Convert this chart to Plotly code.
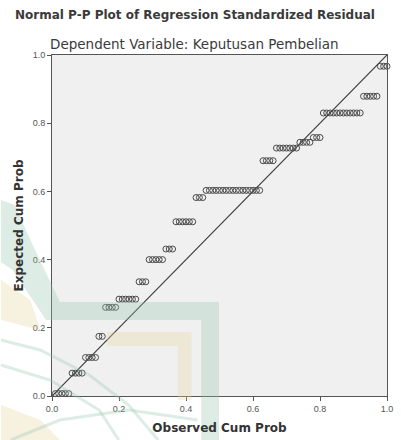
import plotly.graph_objects as go

# Observed vs expected cumulative probabilities of the standardized residuals,
# grouped by tied expected value
groups_observed = [
    [0.01, 0.02, 0.03, 0.04, 0.05],
    [0.06, 0.07, 0.08, 0.09],
    [0.10, 0.11, 0.12, 0.13],
    [0.14, 0.15],
    [0.16, 0.17, 0.18, 0.19],
    [0.20, 0.21, 0.22, 0.23, 0.24, 0.25],
    [0.26, 0.27, 0.28],
    [0.29, 0.30, 0.31, 0.32, 0.33],
    [0.34, 0.35, 0.36],
    [0.37, 0.38, 0.39, 0.40, 0.41, 0.42],
    [0.43, 0.44, 0.45],
    [0.46, 0.47, 0.48, 0.49, 0.50, 0.51, 0.52, 0.53, 0.54, 0.55, 0.56,
     0.57, 0.58, 0.59, 0.60, 0.61, 0.62],
    [0.63, 0.64, 0.65, 0.66],
    [0.67, 0.68, 0.69, 0.70, 0.71, 0.72, 0.73],
    [0.74, 0.75, 0.76, 0.77],
    [0.78, 0.79, 0.80],
    [0.81, 0.82, 0.83, 0.84, 0.85, 0.86, 0.87, 0.88, 0.89, 0.90, 0.91, 0.92],
    [0.93, 0.94, 0.95, 0.96, 0.97],
    [0.98, 0.99, 1.00],
]
groups_expected = [0.007, 0.067, 0.113, 0.175, 0.26, 0.284, 0.335, 0.40, 0.431,
                   0.511, 0.582, 0.603, 0.69, 0.727, 0.744, 0.758, 0.83, 0.879, 0.967]

observed = [x for g in groups_observed for x in g]
expected = [e for g, e in zip(groups_observed, groups_expected) for _ in g]

tick_vals = [0.0, 0.2, 0.4, 0.6, 0.8, 1.0]
tick_text = ["0.0", "0.2", "0.4", "0.6", "0.8", "1.0"]
ref_line = [0.0, 1.0]

W, H = 401, 440
L, R, T, B = 52, 8, 55, 44
PW, PH = W - L - R, H - T - B

HEAD_FONT = "DejaVu Sans, Verdana, sans-serif"
TICK_FONT = "Liberation Sans, Arial, sans-serif"


def px_path(points, close=True):
    """SVG path in paper coordinates from pixel points (origin top-left)."""
    parts = []
    for i, (px, py) in enumerate(points):
        xp = (px - L) / PW
        yp = (H - B - py) / PH
        parts.append(("M" if i == 0 else "L") + f"{xp:.4f},{yp:.4f}")
    return " ".join(parts) + (" Z" if close else "")


fig = go.Figure()

fig.add_trace(go.Scatter(
    x=ref_line, y=ref_line, mode="lines",
    line=dict(color="#3c3c3c", width=1.2),
    hoverinfo="skip", showlegend=False,
))

fig.add_trace(go.Scatter(
    x=observed, y=expected, mode="markers",
    marker=dict(symbol="circle-open", size=6, color="#4a4a4a",
                line=dict(width=1, color="#4a4a4a")),
    cliponaxis=False, showlegend=False,
))

# faint background emblem
green = "rgba(150,195,175,0.32)"
tan = "rgba(230,210,160,0.32)"
shapes = [
    dict(type="path", xref="paper", yref="paper", layer="above", line_width=0,
         fillcolor=green,
         path=px_path([(0, 200), (14, 205), (30, 240), (60, 302), (222, 302),
                       (222, 440), (204, 440), (204, 320), (46, 320),
                       (12, 270), (0, 262)])),
    dict(type="path", xref="paper", yref="paper", layer="above", line_width=0,
         fillcolor=tan,
         path=px_path([(108, 332), (194, 332), (194, 400), (180, 400),
                       (180, 346), (108, 346)])),
    dict(type="path", xref="paper", yref="paper", layer="above", line_width=0,
         fillcolor=tan,
         path=px_path([(0, 280), (30, 300), (40, 330), (0, 320)])),
    dict(type="path", xref="paper", yref="paper", layer="above", line_width=0,
         fillcolor=tan,
         path=px_path([(0, 405), (40, 420), (60, 440), (0, 440)])),
    dict(type="path", xref="paper", yref="paper", layer="above",
         line=dict(color=green, width=3),
         path=px_path([(0, 340), (40, 350), (90, 375), (130, 405), (160, 440)],
                      close=False)),
    dict(type="path", xref="paper", yref="paper", layer="above",
         line=dict(color=green, width=3),
         path=px_path([(0, 365), (50, 380), (100, 410), (120, 440)],
                      close=False)),
    dict(type="path", xref="paper", yref="paper", layer="above",
         line=dict(color=green, width=3),
         path=px_path([(10, 440), (60, 420), (130, 410), (200, 420)],
                      close=False)),
]

axis_common = dict(
    range=[0, 1], tickvals=tick_vals, ticktext=tick_text,
    showgrid=False, zeroline=False,
    showline=True, linecolor="#555555", linewidth=1, mirror=True,
    ticks="outside", ticklen=4, tickcolor="#555555",
    tickfont=dict(family=TICK_FONT, size=9, color="#555555"),
    fixedrange=True,
)

fig.update_layout(
    width=W, height=H,
    margin=dict(l=L, r=R, t=T, b=B),
    paper_bgcolor="white",
    plot_bgcolor="#f0f0f0",
    font=dict(family=HEAD_FONT, color="#333333"),
    xaxis=dict(**axis_common, title=dict(
        text="<b>Observed Cum Prob</b>", standoff=10,
        font=dict(family=HEAD_FONT, size=12, color="#333333"))),
    yaxis=dict(**axis_common, title=dict(
        text="<b>Expected Cum Prob</b>", standoff=6,
        font=dict(family=HEAD_FONT, size=12, color="#333333"))),
    annotations=[
        dict(text="<b>Normal P-P Plot of Regression Standardized Residual</b>",
             xref="paper", yref="paper", showarrow=False,
             font=dict(family=HEAD_FONT, size=12, color="#3a3a3a")),
        dict(text="Dependent Variable: Keputusan Pembelian",
             xref="paper", yref="paper", showarrow=False,
             font=dict(family=HEAD_FONT, size=13.5, color="#3a3a3a")),
    ],
    shapes=shapes,
    showlegend=False,
)

# place the two heading lines at fixed pixel positions above the plot
for ann, (cx, py) in zip(fig.layout.annotations, [(198, 15), (197, 44)]):
    ann.y = (H - B - py) / PH
    ann.x = (cx - L) / PW
    ann.yanchor = "middle"
    ann.xanchor = "center"

fig.write_html("out.html")
